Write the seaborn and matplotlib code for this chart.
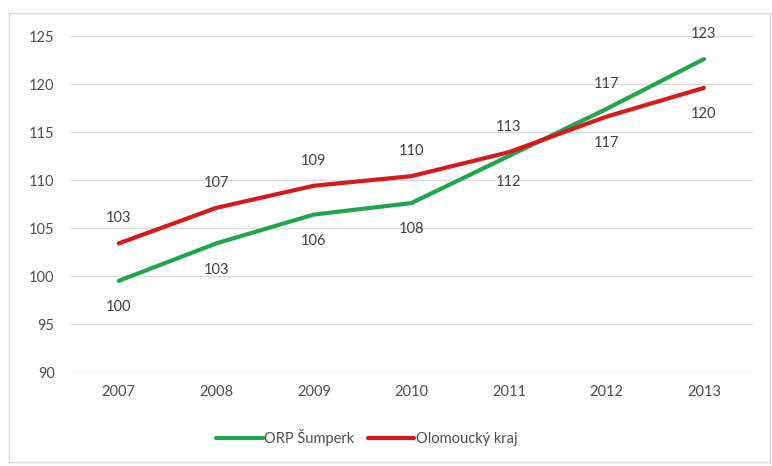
import pandas as pd
import matplotlib.pyplot as plt
import seaborn as sns
from matplotlib.patches import Rectangle

roky = ['2007', '2008', '2009', '2010', '2011', '2012', '2013']
orp_sumperk = [99.5, 103.4, 106.4, 107.6, 112.5, 117.4, 122.6]
olomoucky_kraj = [103.4, 107.1, 109.4, 110.4, 112.9, 116.6, 119.6]

nazvy = ['ORP Šumperk', 'Olomoucký kraj']
barvy = ['#1fa54c', '#d7191c']

df = pd.DataFrame({'rok': roky, nazvy[0]: orp_sumperk, nazvy[1]: olomoucky_kraj})
df_long = df.melt(id_vars='rok', var_name='rada', value_name='hodnota')

sns.set_style('white')
plt.rcParams['font.family'] = ['Lato', 'DejaVu Sans']

fig = plt.figure(figsize=(7.72, 4.66), dpi=100)
ax = fig.add_axes([0.0907, 0.2017, 0.8843, 0.721])

sns.lineplot(data=df_long, x='rok', y='hodnota', hue='rada', palette=barvy,
             linewidth=3, sort=False, ax=ax)

ax.set_ylim(90, 125)
ax.set_xlim(-0.5, len(roky) - 0.5)
ax.set_yticks(range(90, 126, 5))
ax.yaxis.grid(True, color='#d9d9d9', linewidth=1)
ax.xaxis.grid(False)
for s in ax.spines.values():
    s.set_visible(False)
ax.tick_params(axis='y', length=0, pad=11, labelsize=10.5, labelcolor='#4d4d4d')
ax.tick_params(axis='x', length=0, pad=9, labelsize=10.5, labelcolor='#4d4d4d')
ax.set_xlabel('')
ax.set_ylabel('')

# popisky hodnot: vyssi rada nad bodem, nizsi pod bodem
for i in range(len(roky)):
    a, b = orp_sumperk[i], olomoucky_kraj[i]
    for v, other in ((a, b), (b, a)):
        off = 18 if v >= other else -19
        ax.annotate(f'{round(v):d}', (i, v), xytext=(0, off), textcoords='offset points',
                    ha='center', va='center', fontsize=10.5, color='#404040')

ax.legend(title=None, loc='center', bbox_to_anchor=(0.475, 0.062),
          bbox_transform=fig.transFigure, ncol=2, frameon=False, fontsize=10.5,
          handlelength=3.2, handletextpad=0.1, columnspacing=0.9)
for t in ax.get_legend().get_texts():
    t.set_color('#4d4d4d')

fig.patches.append(Rectangle((0.012, 0.008), 0.985, 0.965, transform=fig.transFigure,
                             fill=False, edgecolor='#d9d9d9', linewidth=1))

fig.savefig('out.png', dpi=100)
